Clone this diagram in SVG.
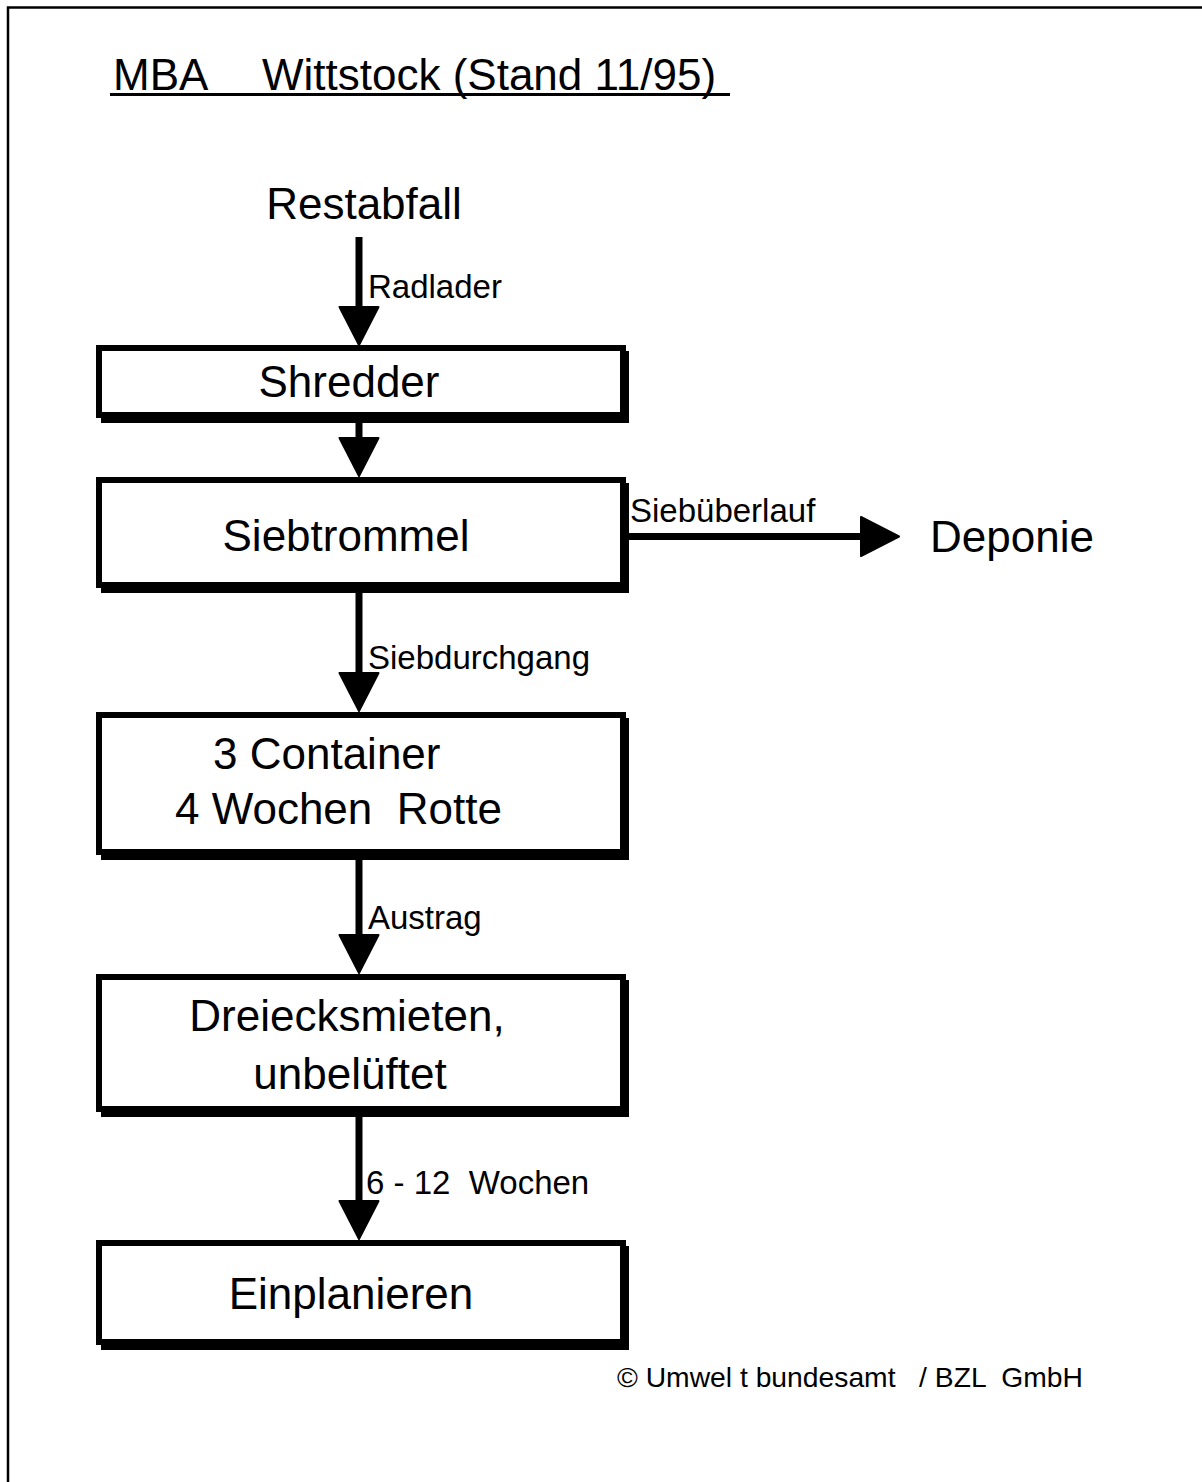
<svg xmlns="http://www.w3.org/2000/svg" width="1202" height="1482" viewBox="0 0 1202 1482">
  <style>
    text { font-family: "Liberation Sans", Arial, sans-serif; fill: #000; }
    .big { font-size: 44px; }
    .lbl { font-size: 33px; }
    .mid { text-anchor: middle; }
    .box { fill: #fff; stroke: #000; stroke-width: 6; }
    .shadow { fill: #000; }
    .conn { stroke: #000; stroke-width: 7; fill: none; }
    .frame { stroke: #000; stroke-width: 2.5; fill: none; }
  </style>
  <defs>
    <marker id="head" markerUnits="userSpaceOnUse" markerWidth="42" markerHeight="44" refX="0" refY="20" orient="auto" overflow="visible">
      <path d="M0,0.5 L38,20 L0,39.5 Z" fill="#000" stroke="#000" stroke-width="2" stroke-linejoin="round"/>
    </marker>
  </defs>

  <rect width="1202" height="1482" fill="#fff"/>

  <!-- page frame (top and left edges) -->
  <path class="frame" d="M8,1482 L8,7.5 L1202,7.5"/>

  <!-- title -->
  <g id="title">
    <text class="big" x="113" y="90">MBA</text>
    <text class="big" x="262" y="90">Wittstock (Stand 11/95)</text>
    <rect x="110" y="93" width="620" height="3"/>
  </g>

  <g id="restabfall">
    <text class="big mid" x="364" y="219">Restabfall</text>
  </g>

  <g id="shredder">
    <rect class="shadow" x="101" y="351" width="528" height="72"/>
    <rect class="box" x="99" y="348" width="524" height="67"/>
    <text class="big mid" x="349" y="397">Shredder</text>
  </g>

  <g id="siebtrommel">
    <rect class="shadow" x="101" y="483" width="528" height="110"/>
    <rect class="box" x="99" y="480" width="524" height="105"/>
    <text class="big mid" x="346" y="551">Siebtrommel</text>
  </g>

  <g id="deponie">
    <text class="big" x="930" y="552">Deponie</text>
  </g>

  <g id="container">
    <rect class="shadow" x="101" y="718" width="528" height="142"/>
    <rect class="box" x="99" y="715" width="524" height="137"/>
    <text class="big" x="213" y="769">3 Container</text>
    <text class="big" x="175" y="824" xml:space="preserve">4 Wochen  Rotte</text>
  </g>

  <g id="dreiecksmieten">
    <rect class="shadow" x="101" y="980" width="528" height="137"/>
    <rect class="box" x="99" y="977" width="524" height="132"/>
    <text class="big mid" x="347" y="1031">Dreiecksmieten,</text>
    <text class="big mid" x="350" y="1089">unbelüftet</text>
  </g>

  <g id="einplanieren">
    <rect class="shadow" x="101" y="1246" width="528" height="104"/>
    <rect class="box" x="99" y="1243" width="524" height="99"/>
    <text class="big mid" x="351" y="1309">Einplanieren</text>
  </g>

  <!-- connectors -->
  <g id="connectors">
    <path class="conn" d="M359,237 L359,307" marker-end="url(#head)"/>
    <text class="lbl" x="368" y="298">Radlader</text>

    <path class="conn" d="M359,423 L359,438" marker-end="url(#head)"/>

    <path class="conn" d="M626,536.5 L861,536.5" marker-end="url(#head)"/>
    <text class="lbl" x="630" y="522">Siebüberlauf</text>

    <path class="conn" d="M359,593 L359,673" marker-end="url(#head)"/>
    <text class="lbl" x="368" y="669">Siebdurchgang</text>

    <path class="conn" d="M359,860 L359,935" marker-end="url(#head)"/>
    <text class="lbl" x="368" y="929">Austrag</text>

    <path class="conn" d="M359,1117 L359,1201" marker-end="url(#head)"/>
    <text class="lbl" x="366" y="1194" xml:space="preserve">6 - 12  Wochen</text>
  </g>

  <!-- credit line -->
  <text x="617" y="1387" font-size="28" textLength="466" lengthAdjust="spacingAndGlyphs" xml:space="preserve">© Umwel t bundesamt   / BZL  GmbH</text>
</svg>
